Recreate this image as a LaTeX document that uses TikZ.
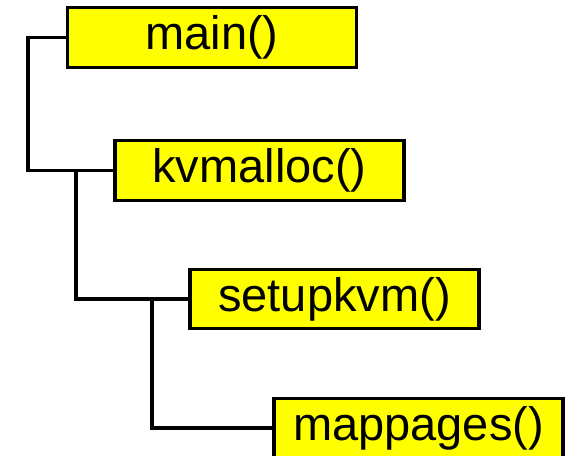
\documentclass[tikz,border=0pt]{standalone}
\usepackage{fontspec}
\setmainfont{Liberation Sans}
\definecolor{yel}{RGB}{255,255,0}
\begin{document}
\begin{tikzpicture}[x=1pt,y=1pt,
  fbox/.style={draw=black, fill=yel, line width=3.3pt, rectangle, inner sep=0pt,
    minimum width=289pt, minimum height=59.5pt, font=\fontsize{47}{52}\selectfont},
  conn/.style={draw=black, line width=3.5pt}]
\clip (0,0) rectangle (570,-455);
\useasboundingbox (0,0) rectangle (570,-455);
\node[fbox] (main) at (212,-37.5) {main()};
\node[fbox] (kvm) at (259.5,-170.5) {kvmalloc()};
\node[fbox] (setup) at (334.5,-299) {setupkvm()};
\node[fbox] (map) at (418.5,-428) {mappages()};
\coordinate (c1) at (28,-37.5);
\coordinate (j1) at (76,-170.5);
\coordinate (j2) at (152,-299);
\draw[conn] (main.west) -- (c1) |- (kvm.west);
\draw[conn] (j1) |- (setup.west);
\draw[conn] (j2) |- (map.west);
\end{tikzpicture}
\end{document}
